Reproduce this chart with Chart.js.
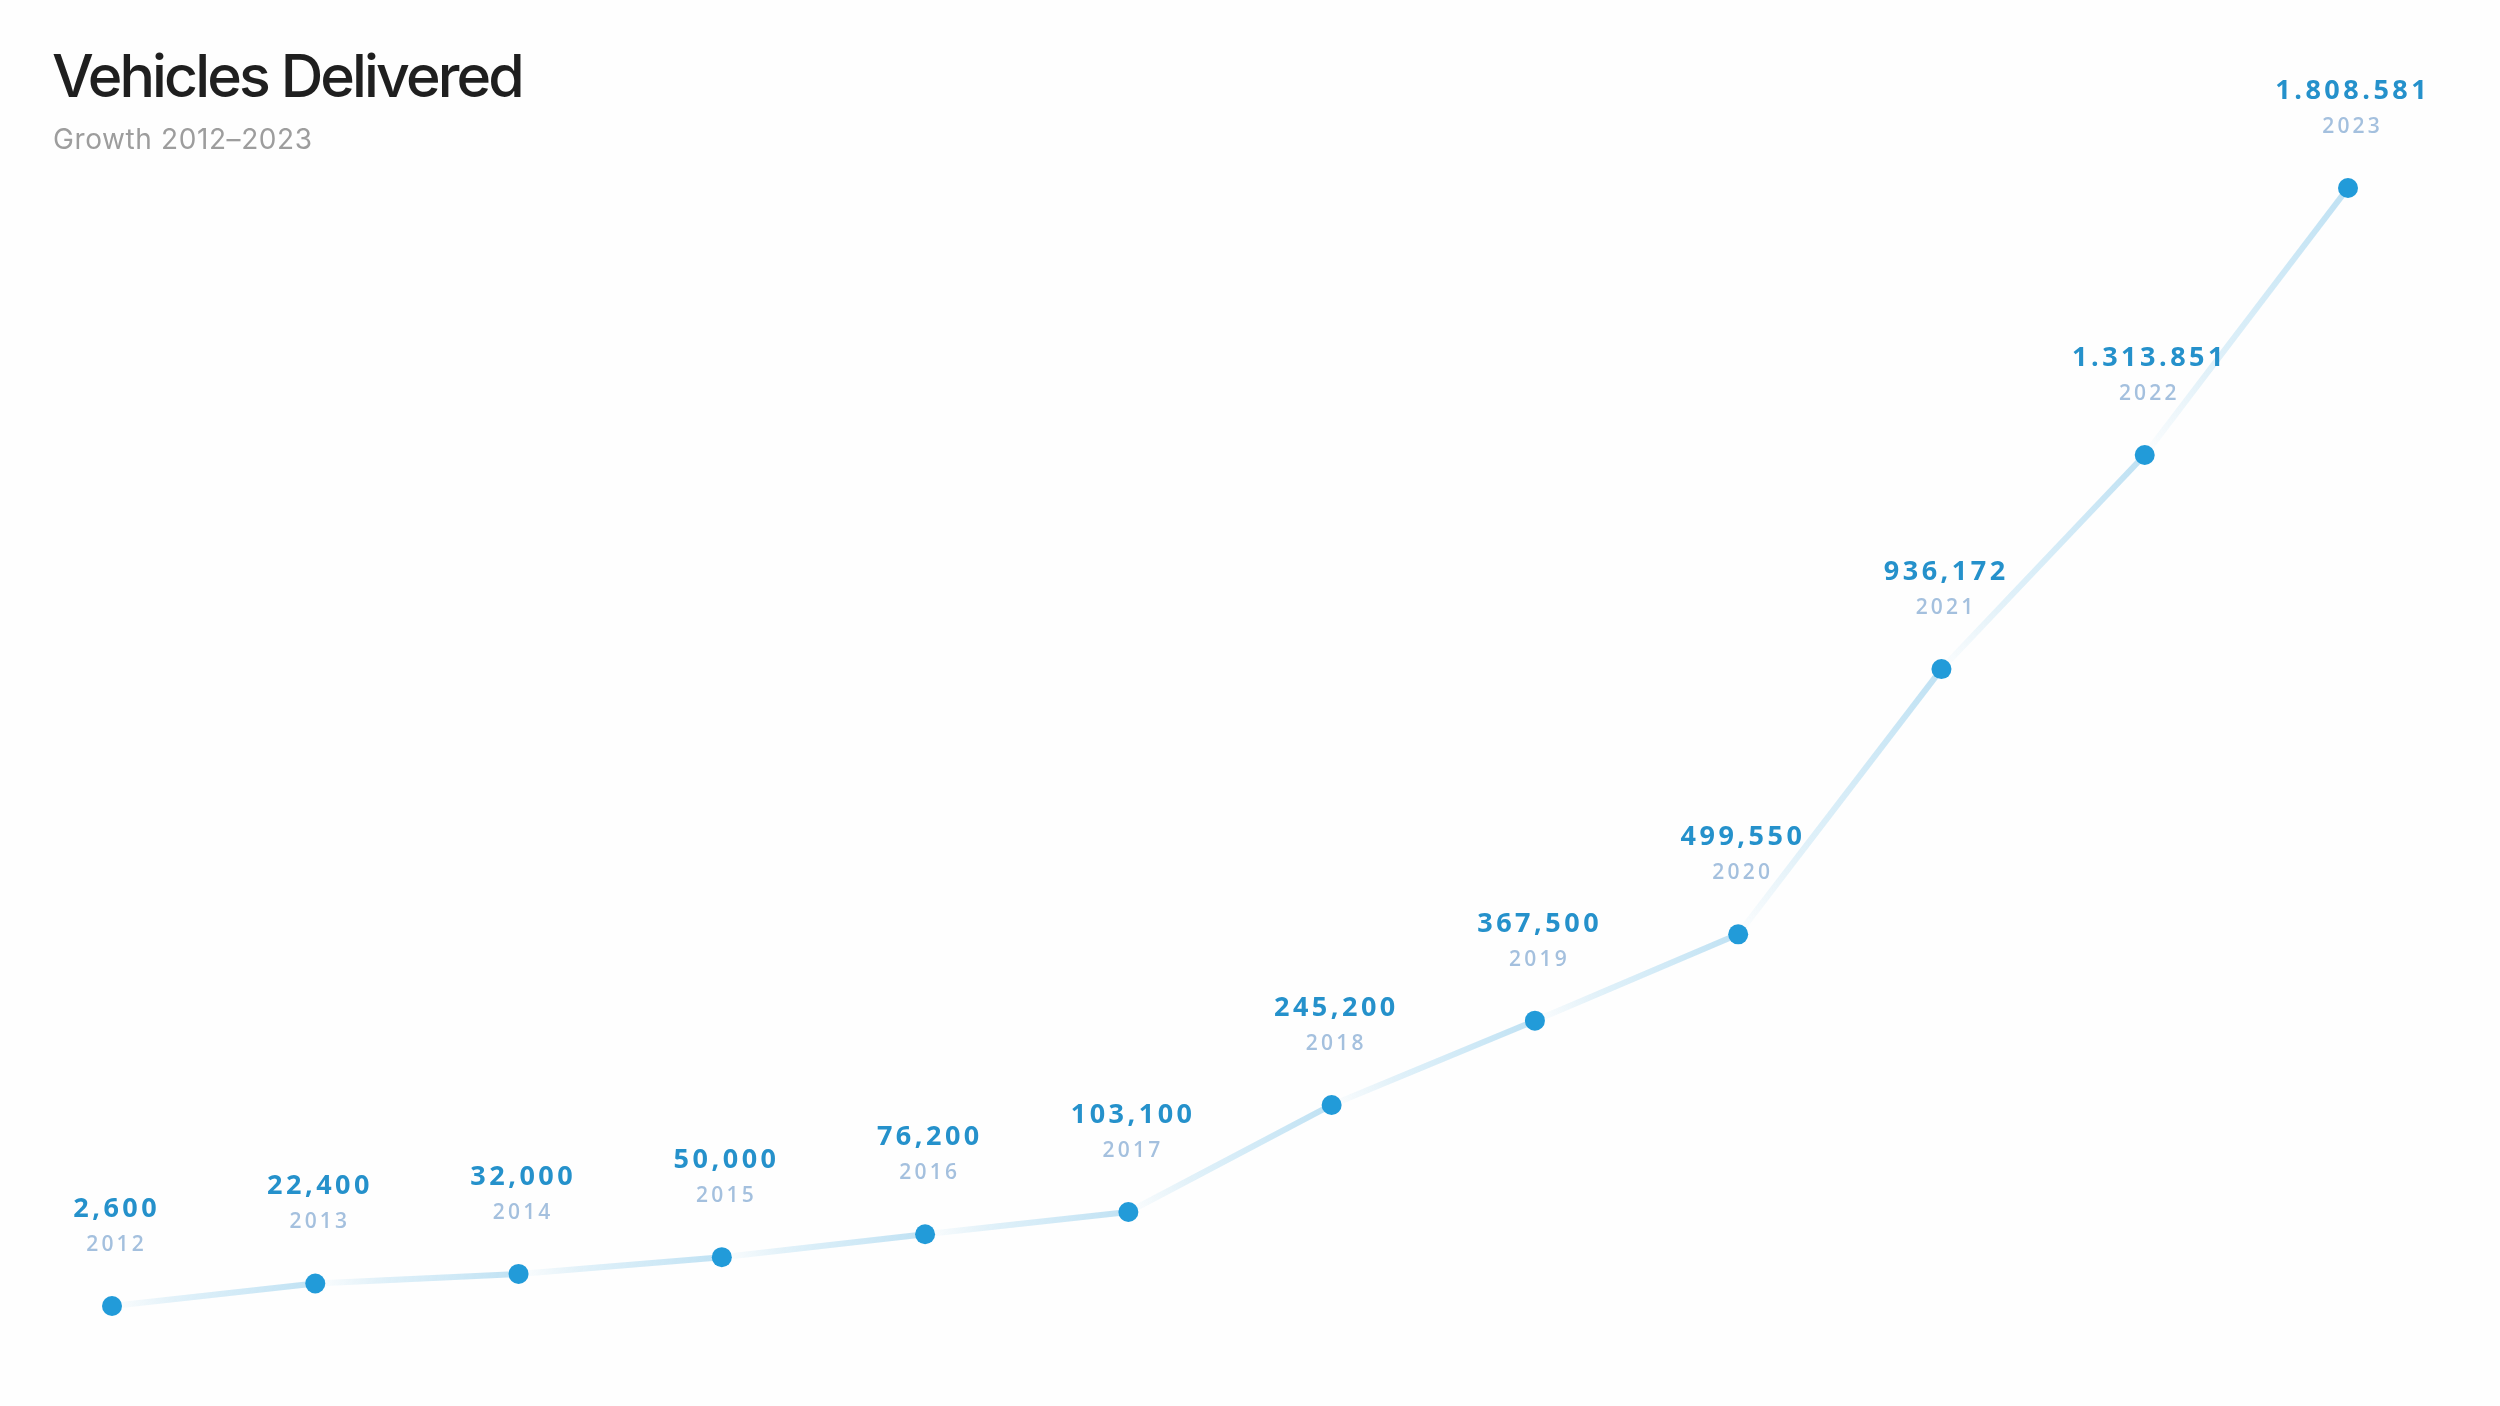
<!DOCTYPE html>
<html>
<head>
<meta charset="utf-8">
<title>Vehicles Delivered</title>
<script src="https://cdn.jsdelivr.net/npm/chart.js@4/dist/chart.umd.min.js"></script>
<style>
  html, body { margin: 0; padding: 0; background: #fefefe; }
  #wrap { position: relative; width: 2500px; height: 1406px; }
  #title {
    position: absolute; left: 52px; top: 46px; margin: 0;
    font: 500 59px/59px "Inter", sans-serif; letter-spacing: -2.9px; color: #1f1f1f;
  }
  #subtitle {
    position: absolute; left: 53px; top: 125px; margin: 0;
    font: 400 28px/28px "Inter", sans-serif; letter-spacing: 0.6px; color: #9d9d9d;
  }
</style>
</head>
<body>
<div id="wrap">
  <canvas id="deliveries" width="2500" height="1406"></canvas>
  <h1 id="title">Vehicles Delivered</h1>
  <p id="subtitle">Growth 2012–2023</p>
</div>
<script>
// datos
const years = ["2012", "2013", "2014", "2015", "2016", "2017", "2018", "2019", "2020", "2021", "2022", "2023"];
const delivered = [2600, 22400, 32000, 50000, 76200, 103100, 245200, 367500, 499550, 936172, 1313851, 1808581];
const valueLabels = ["2,600", "22,400", "32,000", "50,000", "76,200", "103,100", "245,200", "367,500", "499,550", "936,172", "1.313.851", "1.808.581"];

// eje Y con curva de potencia (el original comprime los valores altos)
const EXP = 0.85;
class PowScale extends Chart.LinearScale {
    getPixelForValue(value) {
        const a = Math.pow(this.min, EXP), b = Math.pow(this.max, EXP);
        return this.getPixelForDecimal((Math.pow(value, EXP) - a) / (b - a));
    }
    getValueForPixel(pixel) {
        const a = Math.pow(this.min, EXP), b = Math.pow(this.max, EXP);
        return Math.pow(a + this.getDecimalForPixel(pixel) * (b - a), 1 / EXP);
    }
}
PowScale.id = "pow";
PowScale.defaults = {};
Chart.register(PowScale);

// cada tramo se desvanece hacia su punto inicial
function segmentColor(ctx) {
    const c = ctx.chart.ctx;
    const g = c.createLinearGradient(ctx.p0.x, ctx.p0.y, ctx.p1.x, ctx.p1.y);
    g.addColorStop(0, "rgba(196,228,244,0.03)");
    g.addColorStop(0.35, "rgba(196,228,244,0.55)");
    g.addColorStop(1, "#bfe1f3");
    return g;
}

// etiquetas de valor y año encima de cada punto
const pointLabels = {
    id: "pointLabels",
    afterDatasetsDraw(chart) {
        const c = chart.ctx;
        const meta = chart.getDatasetMeta(0);
        c.save();
        c.textAlign = "center";
        c.textBaseline = "alphabetic";
        meta.data.forEach((pt, i) => {
            const x = pt.x + 3;
            c.letterSpacing = "3.5px";
            c.fillStyle = "#2591cb";
            c.font = "700 27px 'Open Sans', sans-serif";
            c.fillText(valueLabels[i], x + 1.75, pt.y - 89);
            c.letterSpacing = "3.2px";
            c.fillStyle = "#a4c0de";
            c.font = "600 21px 'Open Sans', sans-serif";
            c.fillText(years[i], x + 1.6, pt.y - 55);
        });
        c.restore();
    }
};

const ctx = document.getElementById("deliveries").getContext("2d");

new Chart(ctx, {
    type: "line",
    data: {
        labels: years,
        datasets: [{
            label: "Vehicles Delivered",
            data: delivered,
            borderWidth: 6,
            borderColor: "#bfe1f3",
            segment: { borderColor: segmentColor },
            pointRadius: 10,
            pointBackgroundColor: "#229bd9",
            pointBorderWidth: 0,
            tension: 0,
            clip: false,
        }],
    },
    options: {
        responsive: false,
        animation: false,
        layout: { padding: { left: 112, right: 152, top: 188, bottom: 100 } },
        plugins: { legend: { display: false }, tooltip: { enabled: false } },
        scales: {
            x: { display: false, offset: false },
            y: { type: "pow", display: false, min: 2600, max: 1808581 },
        },
    },
    plugins: [pointLabels],
});
</script>
</body>
</html>
